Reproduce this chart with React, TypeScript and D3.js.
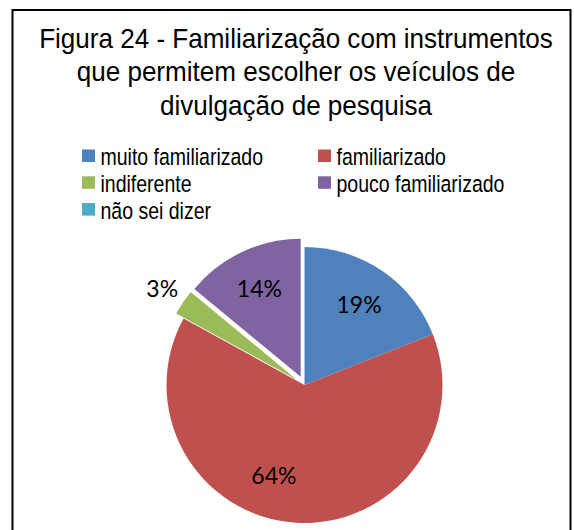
import React, { useEffect } from 'react';
import * as d3 from 'd3';

// chart data
const titleLines = [
  'Figura 24 - Familiarização com instrumentos',
  'que permitem escolher os veículos de',
  'divulgação de pesquisa',
];
const categories = ['muito familiarizado', 'familiarizado', 'indiferente', 'pouco familiarizado', 'não sei dizer'];
const values = [19, 64, 3, 14, 0];
const colors = ['#4F81BD', '#C0504D', '#9BBB59', '#8064A2', '#4BACC6'];
// styling per slice: explode offset, label radius, label angle nudge (deg)
const explode = [0, 0, 9, 9, 0];
const labelRadius = [97, 96, 163, 97, 97];
const labelNudge = [0, 15, 0, 0, 0];

const W = 574;
const H = 530;
const cx = 304.5;
const cy = 385;
const R = 138;

const App: React.FC = () => {
  useEffect(() => {
    document.body.style.margin = '0';
  }, []);

  const total = d3.sum(values);
  const pie = d3.pie<number>().sort(null).value(d => d).startAngle(0).endAngle(2 * Math.PI);
  const arcs = pie(values);
  const arc = d3.arc<d3.PieArcDatum<number>>().innerRadius(0).outerRadius(R);

  const legendX = [82, 318];
  const legendY = d3.scaleLinear().domain([0, 1]).range([149.5, 176.3]);

  return (
    <svg width={W} height={H} style={{ display: 'block' }}>
      <rect x={0} y={0} width={W} height={H} fill="#fff" />
      <rect x={12.5} y={10} width={558} height={H + 20} fill="none" stroke="#000" strokeWidth={2} />

      {titleLines.map((t, i) => (
        <text
          key={i}
          transform={`translate(296,${47.5 + i * 33.5}) scale(0.965,1)`}
          textAnchor="middle"
          fontFamily="'Liberation Sans', Arial, sans-serif"
          fontSize={27}
          fill="#000"
        >
          {t}
        </text>
      ))}

      {categories.map((c, i) => {
        const col = i % 2;
        const row = Math.floor(i / 2);
        const x = legendX[col];
        const y = legendY(row);
        return (
          <g key={c}>
            <rect x={x} y={y} width={13} height={12.5} fill={colors[i]} />
            <text
              transform={`translate(${x + 18.5},${y + 15.5}) scale(0.83,1)`}
              fontFamily="'Liberation Sans', Arial, sans-serif"
              fontSize={23.5}
              fill="#000"
            >
              {c}
            </text>
          </g>
        );
      })}

      <g transform={`translate(${cx},${cy})`}>
        {arcs.map((a, i) => {
          const mid = (a.startAngle + a.endAngle) / 2;
          const dx = Math.sin(mid) * explode[i];
          const dy = -Math.cos(mid) * explode[i];
          return (
            <path key={i} d={arc(a) || ''} fill={colors[i]} transform={`translate(${dx},${dy})`} />
          );
        })}
        {arcs.map((a, i) => {
          if (!values[i]) return null;
          const mid = (a.startAngle + a.endAngle) / 2;
          const la = mid + (labelNudge[i] * Math.PI) / 180;
          const ex = explode[i];
          const x = Math.sin(mid) * ex + Math.sin(la) * labelRadius[i];
          const y = -Math.cos(mid) * ex - Math.cos(la) * labelRadius[i];
          return (
            <text
              key={'l' + i}
              x={x}
              y={y}
              dy="0.36em"
              textAnchor="middle"
              fontFamily="Lato, 'Open Sans', sans-serif"
              fontSize={23}
              fill="#000"
            >
              {Math.round((values[i] / total) * 100)}%
            </text>
          );
        })}
      </g>
    </svg>
  );
};

export default App;
